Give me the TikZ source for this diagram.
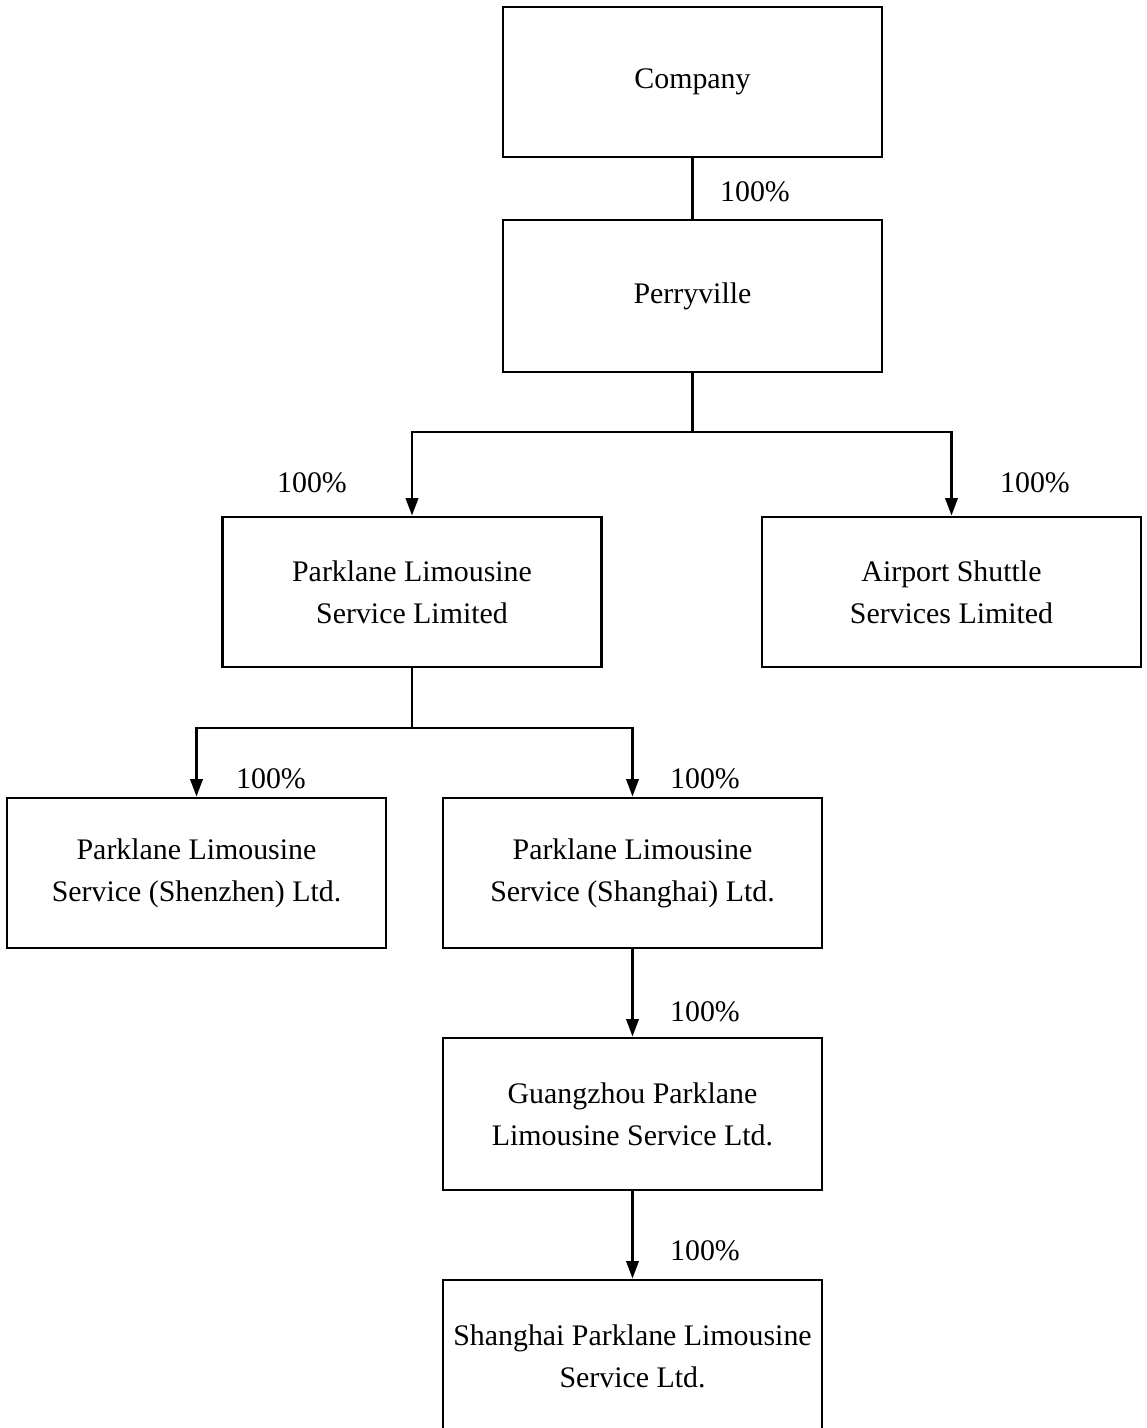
\documentclass[tikz,border=0pt]{standalone}
\usepackage{fontspec}
\setmainfont{Liberation Serif}
\usetikzlibrary{arrows.meta}

\tikzset{
  entity/.style={draw, line width=1.6pt, minimum width=7.58cm, minimum height=3cm,
                 align=center, inner sep=0pt, font=\fontsize{17}{24}\selectfont},
  share/.style={font=\fontsize{17}{24}\selectfont, inner sep=0pt},
  owns/.style={line width=1.6pt},
  ownsto/.style={owns, -{Triangle[width=7pt, length=10pt]}}
}

\begin{document}
\begin{tikzpicture}[x=0.02cm, y=-0.02cm]

        \useasboundingbox (0,0) rectangle (1147,1428);

        %Holding chain
        \node [entity] (company)   at (692.5,82)   {Company};
        \node [entity, minimum height=3.04cm] (perry) at (692.5,296) {Perryville};

        %Second level
        \node [entity] (plsl)      at (412,592)    {Parklane Limousine\\Service Limited};
        \node [entity] (airport)   at (951.5,592)  {Airport Shuttle\\Services Limited};

        %Third level
        \node [entity] (shenzhen)  at (196.5,873)  {Parklane Limousine\\Service (Shenzhen) Ltd.};
        \node [entity] (shanghai)  at (632.5,873)  {Parklane Limousine\\Service (Shanghai) Ltd.};

        %Lower chain
        \node [entity, minimum height=3.04cm] (guangzhou) at (632.5,1114) {Guangzhou Parklane\\Limousine Service Ltd.};
        \node [entity, minimum height=3.04cm] (shparklane) at (632.5,1356) {Shanghai Parklane Limousine\\Service Ltd.};

        %Branch points
        \coordinate (split1) at (692.5,432);
        \coordinate (split2) at (412,728);

        %Connectors
        \draw [owns]    (company) -- (perry);
        \draw [owns]    (perry)   -- (split1);
        \draw [ownsto]  (split1)  -| (plsl);
        \draw [ownsto]  (split1)  -| (airport);
        \draw [owns]    (plsl)    -- (split2);
        \draw [ownsto]  (split2)  -| (shenzhen);
        \draw [ownsto]  (split2)  -| (shanghai);
        \draw [ownsto]  (shanghai)  -- (guangzhou);
        \draw [ownsto]  (guangzhou) -- (shparklane);

        %Shareholdings
        \node [share] (s1) at (755,192)  {100\%};
        \node [share] (s2) at (312,483)  {100\%};
        \node [share] (s3) at (1035,483) {100\%};
        \node [share] (s4) at (271,779)  {100\%};
        \node [share] (s5) at (705,779)  {100\%};
        \node [share] (s6) at (705,1012) {100\%};
        \node [share] (s7) at (705,1251) {100\%};

\end{tikzpicture}
\end{document}
